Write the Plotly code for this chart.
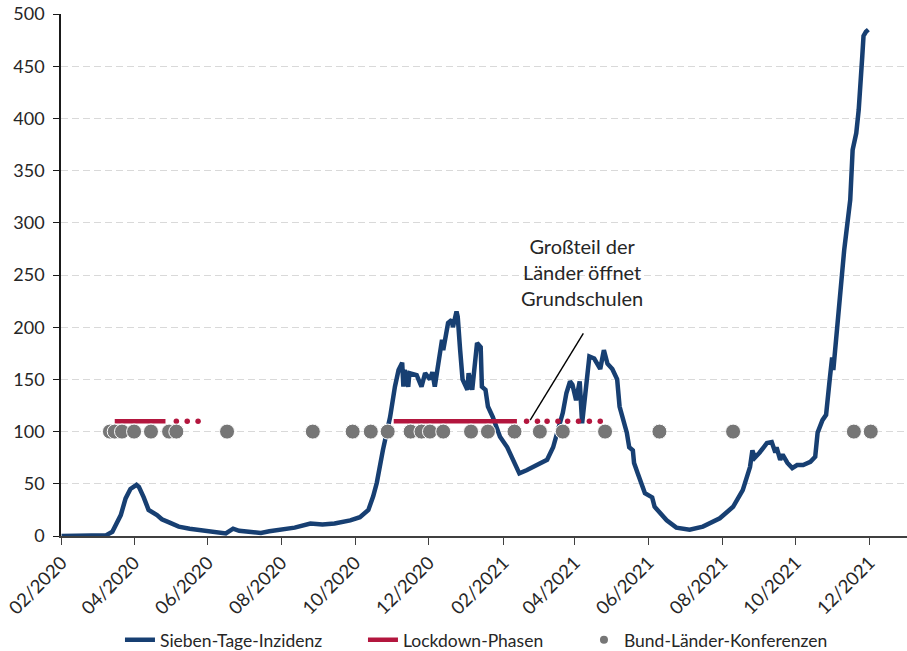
import plotly.graph_objects as go

# ---------------- data ----------------
inz_dates = [
    "2020-02-01", "2020-03-01", "2020-03-09", "2020-03-14", "2020-03-18", "2020-03-21", "2020-03-25",
    "2020-03-29", "2020-04-03", "2020-04-05", "2020-04-09", "2020-04-13", "2020-04-20", "2020-04-24",
    "2020-04-30", "2020-05-08", "2020-05-17", "2020-05-25", "2020-06-02", "2020-06-10", "2020-06-16",
    "2020-06-22", "2020-06-27", "2020-07-05", "2020-07-15", "2020-07-22", "2020-08-02", "2020-08-12",
    "2020-08-25", "2020-09-04", "2020-09-14", "2020-09-27", "2020-10-05", "2020-10-12", "2020-10-16",
    "2020-10-19", "2020-10-24", "2020-10-30", "2020-11-03", "2020-11-06", "2020-11-09", "2020-11-10",
    "2020-11-11", "2020-11-14", "2020-11-15", "2020-11-21", "2020-11-25", "2020-11-28", "2020-12-02",
    "2020-12-04", "2020-12-06", "2020-12-08", "2020-12-12", "2020-12-13", "2020-12-17", "2020-12-20",
    "2020-12-21", "2020-12-24", "2020-12-25", "2020-12-27", "2020-12-29", "2021-01-02", "2021-01-03",
    "2021-01-06", "2021-01-10", "2021-01-13", "2021-01-14", "2021-01-17", "2021-01-19", "2021-01-23",
    "2021-01-29", "2021-02-04", "2021-02-09", "2021-02-14", "2021-02-20", "2021-02-27", "2021-03-09",
    "2021-03-14", "2021-03-18", "2021-03-22", "2021-03-25", "2021-03-28", "2021-03-30", "2021-04-02",
    "2021-04-05", "2021-04-07", "2021-04-13", "2021-04-17", "2021-04-22", "2021-04-25", "2021-04-28",
    "2021-05-02", "2021-05-06", "2021-05-08", "2021-05-14", "2021-05-16", "2021-05-19", "2021-05-20",
    "2021-05-23", "2021-05-29", "2021-06-04", "2021-06-06", "2021-06-16", "2021-06-24", "2021-07-05",
    "2021-07-16", "2021-07-30", "2021-08-10", "2021-08-18", "2021-08-24", "2021-08-26", "2021-08-28",
    "2021-09-01", "2021-09-07", "2021-09-11", "2021-09-14", "2021-09-15", "2021-09-18", "2021-09-20",
    "2021-09-24", "2021-09-28", "2021-10-02", "2021-10-07", "2021-10-13", "2021-10-17", "2021-10-19",
    "2021-10-23", "2021-10-26", "2021-10-29", "2021-10-31", "2021-11-01", "2021-11-04", "2021-11-06",
    "2021-11-10", "2021-11-15", "2021-11-17", "2021-11-20", "2021-11-22", "2021-11-25", "2021-11-26",
    "2021-11-28", "2021-11-30",
]
inz_values = [
    0, 0.1, 0.8, 4, 12, 20, 36,
    45, 49, 47, 37, 25, 20, 16,
    13, 9, 7, 6, 4, 3, 2.5,
    7, 5, 4, 3, 4.5, 6, 8,
    12, 11, 12, 15, 18, 25, 38,
    51, 82, 114, 143, 159, 166, 143,
    159, 143, 156, 154, 143, 156, 150,
    157, 143, 159, 188, 178, 204, 207,
    200, 215, 210, 178, 150, 140, 156,
    140, 185, 181, 143, 140, 124, 114,
    95, 85, 73, 60, 63, 67, 73,
    85, 100, 118, 137, 148, 145, 130,
    148, 108, 172, 170, 160, 178, 165,
    160, 150, 124, 99, 85, 82, 70,
    60, 41, 37, 28, 15, 8, 6,
    9, 17, 28, 44, 66, 82, 75,
    80, 89, 90, 80, 85, 73, 78,
    70, 65, 68, 68, 71, 76, 99,
    111, 116, 150, 171, 159, 198, 226,
    274, 322, 370, 386, 408, 460, 479,
    483, 485,
]

# Lockdown phases (solid) and the loosening phases (dotted), drawn at level 110
lockdown_dates = ["2020-03-16", "2020-04-27", None, "2020-11-02", "2021-02-12"]
lockdown_values = [110, 110, None, 110, 110]
lockdown_dot_dates = [
    "2020-05-06", "2020-05-15", "2020-05-24",
    "2021-02-20", "2021-03-01", "2021-03-09", "2021-03-18",
    "2021-03-26", "2021-04-04", "2021-04-13", "2021-04-22",
]
lockdown_level = 110

# Bund-Länder-Konferenzen, drawn at level 100
conf_dates = [
    "2020-03-12", "2020-03-16", "2020-03-22", "2020-04-01", "2020-04-15", "2020-04-30",
    "2020-05-06", "2020-06-17", "2020-08-27", "2020-09-29", "2020-10-14", "2020-10-28",
    "2020-11-16", "2020-11-25", "2020-12-02", "2020-12-13", "2021-01-05", "2021-01-19",
    "2021-02-10", "2021-03-03", "2021-03-22", "2021-04-26", "2021-06-10", "2021-08-10",
    "2021-11-18", "2021-12-02",
]
conf_level = 100

tick_dates = ["2020-02-01", "2020-04-01", "2020-06-01", "2020-08-01", "2020-10-01", "2020-12-01",
              "2021-02-01", "2021-04-01", "2021-06-01", "2021-08-01", "2021-10-01", "2021-12-01"]
tick_labels = ["02/2020", "04/2020", "06/2020", "08/2020", "10/2020", "12/2020",
               "02/2021", "04/2021", "06/2021", "08/2021", "10/2021", "12/2021"]
y_ticks = [0, 50, 100, 150, 200, 250, 300, 350, 400, 450, 500]

annot_text = "Großteil der<br>Länder öffnet<br>Grundschulen"
annot_pos = ("2021-04-07", 253)
annot_line = ("2021-02-23", 111, "2021-04-08", 194)

# ---------------- style ----------------
BLUE = "#173F72"
RED = "#B3163E"
GREY = "#767676"
TXT = "#262626"
FONT = "Lato, 'Open Sans', sans-serif"

fig = go.Figure()

fig.add_trace(go.Scatter(
    x=inz_dates, y=inz_values, mode="lines", name="Sieben-Tage-Inzidenz",
    line=dict(color=BLUE, width=4.5), legendwidth=198,
))
fig.add_trace(go.Scatter(
    x=lockdown_dates, y=lockdown_values, mode="lines", name="Lockdown-Phasen",
    line=dict(color=RED, width=4.5), connectgaps=False, legendwidth=176,
))
fig.add_trace(go.Scatter(
    x=lockdown_dot_dates, y=[lockdown_level] * len(lockdown_dot_dates), mode="markers",
    marker=dict(color=RED, size=5.5), showlegend=False,
))
fig.add_trace(go.Scatter(
    x=conf_dates, y=[conf_level] * len(conf_dates), mode="markers",
    marker=dict(color=GREY, size=15, line=dict(color="white", width=1)),
    showlegend=False,
))
# legend-only entry with a smaller dot
fig.add_trace(go.Scatter(
    x=[None], y=[None], mode="markers", name="Bund-Länder-Konferenzen",
    marker=dict(color=GREY, size=8),
))

fig.add_shape(type="line", xref="x", yref="y",
              x0=annot_line[0], y0=annot_line[1], x1=annot_line[2], y1=annot_line[3],
              line=dict(color="black", width=1.4))
fig.add_annotation(x=annot_pos[0], y=annot_pos[1], text=annot_text, showarrow=False,
                   font=dict(family=FONT, size=20, color=TXT), align="center")

fig.update_layout(
    width=907, height=651,
    margin=dict(l=61, r=0, t=14, b=115, autoexpand=False),
    paper_bgcolor="white", plot_bgcolor="white",
    font=dict(family=FONT, color=TXT),
    showlegend=True,
    legend=dict(orientation="h", x=0.0697, xanchor="left", yref="paper", y=-0.199,
                yanchor="middle", font=dict(family=FONT, size=17.5, color=TXT),
                bgcolor="rgba(0,0,0,0)", itemwidth=30),
    xaxis=dict(
        type="date", range=["2020-01-31 12:00", "2022-01-01"], automargin=False,
        tickvals=tick_dates, ticktext=tick_labels, tickangle=-45,
        ticklabeloverflow="allow",
        ticks="outside", ticklen=7, tickwidth=1.3, tickcolor="#404040",
        showline=True, linecolor="#404040", linewidth=1.5,
        showgrid=False, zeroline=False,
        tickfont=dict(family=FONT, size=18.5, color=TXT),
    ),
    yaxis=dict(
        range=[0, 500], tickvals=y_ticks, automargin=False,
        ticklabeloverflow="allow",
        ticks="outside", ticklen=6, tickwidth=1.3, tickcolor="#1a1a1a",
        showline=True, linecolor="#1a1a1a", linewidth=1.5,
        showgrid=True, gridcolor="#d9d9d9", gridwidth=1.3, griddash="7px,4px",
        zeroline=False, ticklabelstandoff=5,
        tickfont=dict(family=FONT, size=18, color=TXT),
    ),
)

# remove the browser's default 8px body margin so the figure fills the window
fig.write_html(
    "out.html",
    config={"displayModeBar": False},
    post_script="document.body.style.margin='0';document.body.style.overflow='hidden';",
)
